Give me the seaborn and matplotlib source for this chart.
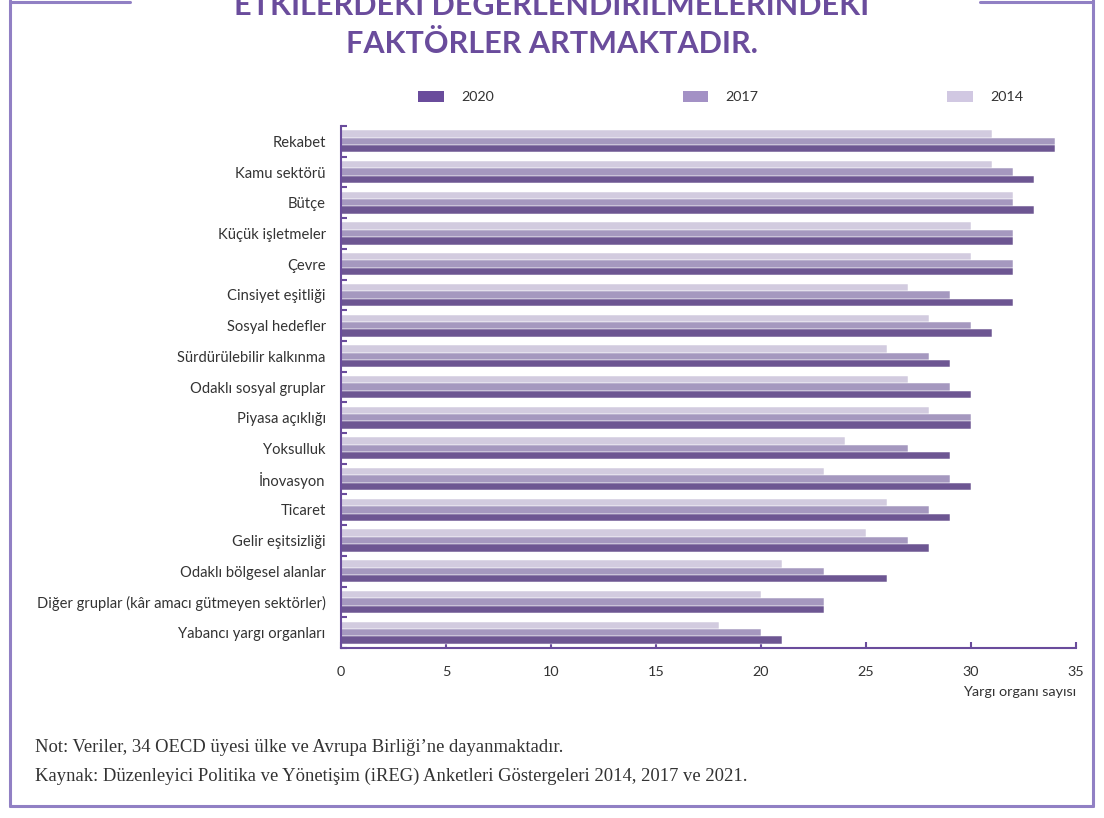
import numpy as np
import pandas as pd
import seaborn as sns
import matplotlib.pyplot as plt
from matplotlib.patches import Patch
from matplotlib.lines import Line2D

# Data
categories = [
    'Rekabet', 'Kamu sektörü', 'Bütçe', 'Küçük işletmeler', 'Çevre',
    'Cinsiyet eşitliği', 'Sosyal hedefler', 'Sürdürülebilir kalkınma',
    'Odaklı sosyal gruplar', 'Piyasa açıklığı', 'Yoksulluk', 'İnovasyon',
    'Ticaret', 'Gelir eşitsizliği', 'Odaklı bölgesel alanlar',
    'Diğer gruplar (kâr amacı gütmeyen sektörler)', 'Yabancı yargı organları',
]
v2014 = [31, 31, 32, 30, 30, 27, 28, 26, 27, 28, 24, 23, 26, 25, 21, 20, 18]
v2017 = [34, 32, 32, 32, 32, 29, 30, 28, 29, 30, 27, 29, 28, 27, 23, 23, 20]
v2020 = [34, 33, 33, 32, 32, 32, 31, 29, 30, 30, 29, 30, 29, 28, 26, 23, 21]
years = ['2014', '2017', '2020']
x_ticks = [0, 5, 10, 15, 20, 25, 30, 35]

df = pd.DataFrame({'Kategori': categories, '2014': v2014, '2017': v2017, '2020': v2020})
df_melted = df.melt(id_vars=['Kategori'], var_name='Yıl', value_name='Sayı')

purple = '#6a4c9c'
frame_col = '#9180c4'
text_col = '#333333'
palette = {'2020': '#6a4c9c', '2017': '#a391c5', '2014': '#d1c8e2'}

sns.set_theme(style='white')
plt.rcParams['font.family'] = ['Lato', 'DejaVu Sans']

fig = plt.figure(figsize=(11.04, 8.18), dpi=100)
ax = fig.add_axes([341 / 1104, 1 - 648 / 818, 735 / 1104, 522 / 818])

sns.barplot(data=df_melted, y='Kategori', x='Sayı', hue='Yıl',
            hue_order=years, palette=palette, orient='h', width=0.72,
            edgecolor='white', linewidth=0.35, legend=False, ax=ax)

ax.set_xlim(0, 35)
ax.set_ylim(len(categories) - 0.5, -0.5)
ax.set_xticks(x_ticks)
ax.set_yticks(np.arange(-0.5, len(categories), 1), minor=True)

ax.tick_params(axis='y', which='major', length=0, pad=11,
               labelsize=10.6, labelcolor=text_col)
ax.tick_params(axis='y', which='minor', left=True, direction='in',
               length=4.5, width=1.5, color=purple)
ax.tick_params(axis='x', bottom=True, direction='in', length=4.5,
               width=1.5, color=purple, pad=13, labelsize=10.4,
               labelcolor=text_col)

for s in ['top', 'right']:
    ax.spines[s].set_visible(False)
for s in ['left', 'bottom']:
    ax.spines[s].set_color(purple)
    ax.spines[s].set_linewidth(1.5)

ax.set_ylabel('')
ax.set_xlabel('Yargı organı sayısı', loc='right', fontsize=10.4,
              color=text_col, labelpad=6)

# Legend (order 2020, 2017, 2014)
leg_years = ['2020', '2017', '2014']
handles = [Patch(facecolor=palette[y], edgecolor='none') for y in leg_years]
fig.legend(handles, leg_years, loc='center left',
           bbox_to_anchor=(418 / 1104, 1 - 97 / 818), ncol=3, frameon=False,
           handlelength=1.8, handleheight=0.85, handletextpad=1.2,
           columnspacing=13.2, fontsize=10.3, labelcolor=text_col,
           borderaxespad=0, borderpad=0)

# Title (first line is clipped at the top, as in the source)
fig.text(0.5, 1 - 15 / 818, 'ETKİLERDEKİ DEĞERLENDİRİLMELERİNDEKİ',
         ha='center', va='baseline', fontsize=22, fontweight='bold',
         color=purple)
fig.text(0.5, 1 - 53 / 818, 'FAKTÖRLER ARTMAKTADIR.',
         ha='center', va='baseline', fontsize=22, fontweight='bold',
         color=purple)

# Notes
fig.text(35 / 1104, 1 - 748 / 818,
         'Not: Veriler, 34 OECD üyesi ülke ve Avrupa Birliği’ne dayanmaktadır.',
         va='center', fontsize=13.4, color=text_col,
         family=['Liberation Serif', 'DejaVu Serif'])
fig.text(35 / 1104, 1 - 776 / 818,
         'Kaynak: Düzenleyici Politika ve Yönetişim (iREG) Anketleri '
         'Göstergeleri 2014, 2017 ve 2021.',
         va='center', fontsize=13.4, color=text_col,
         family=['Liberation Serif', 'DejaVu Serif'])

# Frame around the figure
W, H = 1104, 818
frame = [
    ([10, 10], [0, 806]),
    ([10, 1093], [806, 806]),
    ([1093, 1093], [0, 806]),
    ([10, 130], [2, 2]),
    ([980, 1093], [2, 2]),
]
for xs, ys in frame:
    fig.add_artist(Line2D([x / W for x in xs], [1 - y / H for y in ys],
                          color=frame_col, linewidth=2.2))

fig.savefig('out.png', dpi=100)
